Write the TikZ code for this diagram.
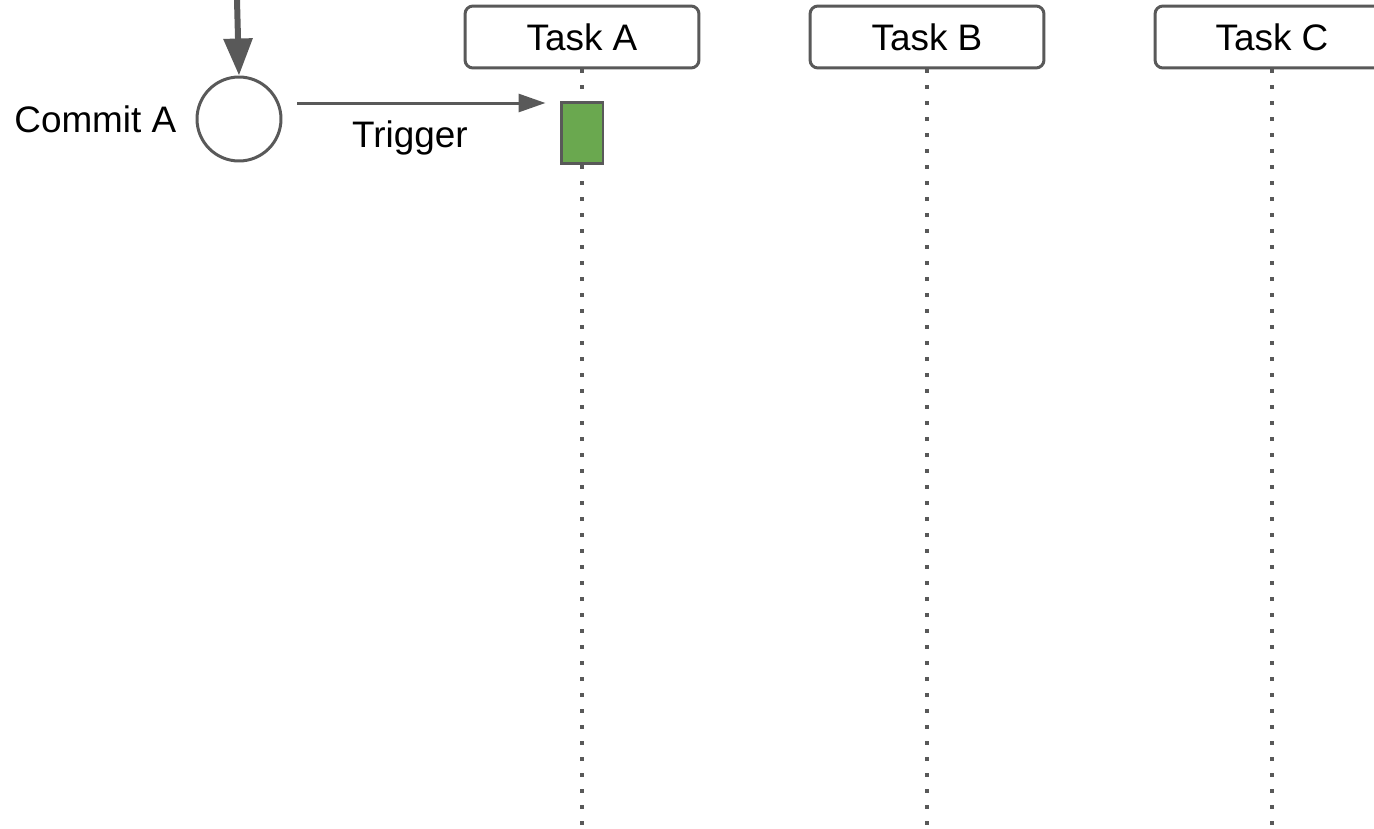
\documentclass[tikz,border=0pt]{standalone}
\usepackage{fontspec}
\setmainfont{Liberation Sans}
\usetikzlibrary{arrows.meta,positioning}
\definecolor{linegray}{HTML}{595959}
\definecolor{rungreen}{HTML}{6AA84F}
\tikzset{
  task/.style={draw=linegray,line width=0.06cm,rounded corners=0.16cm,
    minimum width=4.68cm,minimum height=1.24cm,inner sep=0pt,fill=white},
  lifeline/.style={draw=linegray,line width=0.08cm,dash pattern=on 0.08cm off 0.24cm},
  runbox/.style={draw=linegray,fill=rungreen,line width=0.06cm,
    minimum width=0.84cm,minimum height=1.24cm,inner sep=0pt},
  commitnode/.style={circle,draw=linegray,line width=0.06cm,minimum size=1.68cm,inner sep=0pt},
  flow/.style={draw=linegray,line width=0.06cm,-{Triangle[length=0.54cm,width=0.36cm]}},
}
\begin{document}
\begin{tikzpicture}[x=0.02cm,y=-0.02cm,font=\fontsize{21}{25}\selectfont]
        \useasboundingbox (0,0) rectangle (1374,829);

        \node[task] (taskA) at (582,37) {Task A};
        \node[task] (taskB) at (927,37) {Task B};
        \node[task] (taskC) at (1272,37) {Task C};

        \coordinate (endA) at (582,829);
        \coordinate (endB) at (927,829);
        \coordinate (endC) at (1272,829);
        \draw[lifeline] (taskA.south) -- (endA);
        \draw[lifeline] (taskB.south) -- (endB);
        \draw[lifeline] (taskC.south) -- (endC);

        \node[runbox] (runA) at (582,133) {};

        \node[commitnode] (commit) at (239,119) {};
        \node[left=0.26cm of commit] (commitlabel) {Commit A};

        \coordinate (incoming) at (237,0);
        \draw[draw=linegray,line width=0.12cm,-{Triangle[length=0.74cm,width=0.56cm]}] (incoming) -- (commit.north);

        \coordinate (trigstart) at (297,103);
        \draw[flow,shorten >=0.28cm] (trigstart) -- (trigstart -| runA.west)
            node[pos=0.43,below=0.2cm] (triglabel) {Trigger};
    \end{tikzpicture}
\end{document}
